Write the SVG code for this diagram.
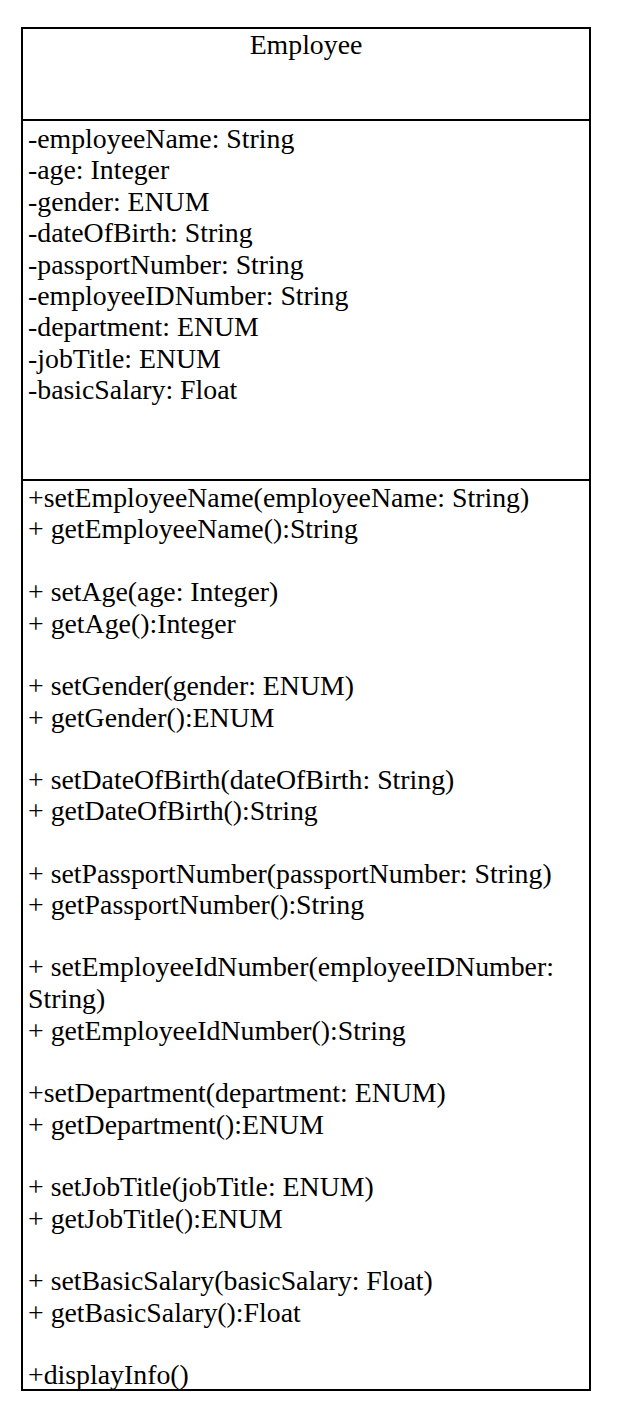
<svg xmlns="http://www.w3.org/2000/svg" width="624" height="1414" viewBox="0 0 624 1414">
<style>
.t{font-family:"Liberation Serif","Times New Roman",serif;font-size:27.8px;fill:#000}
.b{fill:#fff;stroke:#000;stroke-width:2}
.l{stroke:#000;stroke-width:2}
</style>
<rect width="624" height="1414" fill="#fff"/>
<g id="employee">
<rect class="b" x="22" y="28" width="568" height="1362"/>
<line class="l" x1="22" y1="120" x2="590" y2="120"/>
<line class="l" x1="22" y1="480" x2="590" y2="480"/>
<text class="t" x="306" y="54" text-anchor="middle">Employee</text>
<text class="t" x="28" y="148">-employeeName: String</text>
<text class="t" x="28" y="179">-age: Integer</text>
<text class="t" x="28" y="211">-gender: ENUM</text>
<text class="t" x="28" y="242">-dateOfBirth: String</text>
<text class="t" x="28" y="274">-passportNumber: String</text>
<text class="t" x="28" y="305">-employeeIDNumber: String</text>
<text class="t" x="28" y="336">-department: ENUM</text>
<text class="t" x="28" y="368">-jobTitle: ENUM</text>
<text class="t" x="28" y="399">-basicSalary: Float</text>
<text class="t" x="28" y="507">+setEmployeeName(employeeName: String)</text>
<text class="t" x="28" y="538">+ getEmployeeName():String</text>
<text class="t" x="28" y="601">+ setAge(age: Integer)</text>
<text class="t" x="28" y="633">+ getAge():Integer</text>
<text class="t" x="28" y="695">+ setGender(gender: ENUM)</text>
<text class="t" x="28" y="727">+ getGender():ENUM</text>
<text class="t" x="28" y="789">+ setDateOfBirth(dateOfBirth: String)</text>
<text class="t" x="28" y="820">+ getDateOfBirth():String</text>
<text class="t" x="28" y="883">+ setPassportNumber(passportNumber: String)</text>
<text class="t" x="28" y="914">+ getPassportNumber():String</text>
<text class="t" x="28" y="976">+ setEmployeeIdNumber(employeeIDNumber:</text>
<text class="t" x="28" y="1008">String)</text>
<text class="t" x="28" y="1040">+ getEmployeeIdNumber():String</text>
<text class="t" x="28" y="1102">+setDepartment(department: ENUM)</text>
<text class="t" x="28" y="1134">+ getDepartment():ENUM</text>
<text class="t" x="28" y="1196">+ setJobTitle(jobTitle: ENUM)</text>
<text class="t" x="28" y="1228">+ getJobTitle():ENUM</text>
<text class="t" x="28" y="1290">+ setBasicSalary(basicSalary: Float)</text>
<text class="t" x="28" y="1322">+ getBasicSalary():Float</text>
<text class="t" x="28" y="1384">+displayInfo()</text>
</g>
<g id="connectors"/>
</svg>
